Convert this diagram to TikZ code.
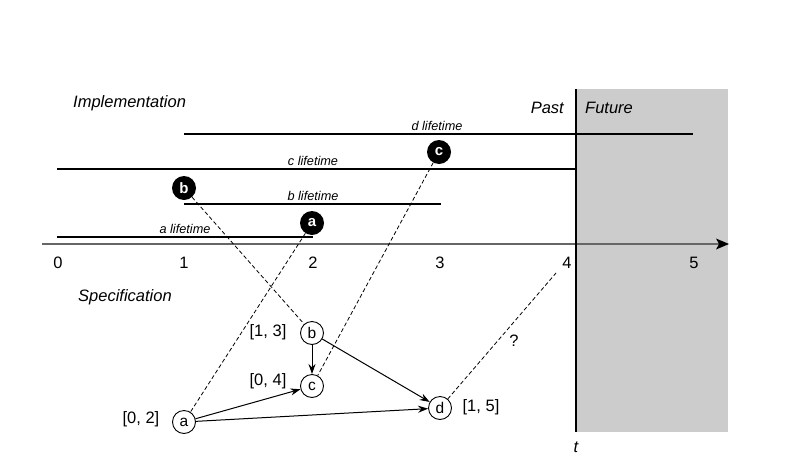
\documentclass[tikz,border=0pt]{standalone}
\usepackage{fontspec}
\setmainfont{Liberation Sans}
\usetikzlibrary{arrows.meta}
\begin{document}
\begin{tikzpicture}[x=1pt,y=-1pt,
  big/.style={font=\fontsize{16.5}{19}\selectfont, inner sep=0pt},
  bigit/.style={font=\fontsize{16.5}{19}\selectfont\itshape, inner sep=0pt},
  lifelab/.style={font=\fontsize{12.7}{15}\selectfont\itshape, inner sep=0pt},
  life/.style={line width=2pt},
  impl/.style={circle, fill=black, minimum size=24pt, inner sep=0pt, text=white, font=\fontsize{15}{18}\selectfont\bfseries},
  spec/.style={circle, draw=black, fill=white, line width=0.9pt, minimum size=23pt, inner sep=0pt, font=\fontsize{15.5}{18}\selectfont},
  dashln/.style={dash pattern=on 4pt off 2.5pt, line width=0.8pt},
  arr/.style={-{Stealth[length=10pt,width=7pt]}, line width=1pt}
]
\useasboundingbox (0,0) rectangle (789,474);
% future area
\fill[black!20] (576,89) rectangle (728,432);
% axis
\coordinate (axs) at (42,244);
\coordinate (axe) at (729,244);
\draw[black!60, line width=2pt] (axs) -- ([xshift=-10pt]axe);
\fill[black] (axe) -- ++(-13,-5.5) -- ++(3,5.5) -- ++(-3,5.5) -- cycle;
% vertical now-line
\coordinate (ttop) at (576,89);
\coordinate (tbot) at (576,432);
\draw[line width=1.5pt] (ttop) -- (tbot);
\node[bigit] (t) at (576,447) {t};
% tick labels
\node[big] (n0) at (58,263) {0};
\node[big] (n1) at (184,263) {1};
\node[big] (n2) at (313,263) {2};
\node[big] (n3) at (440,263) {3};
\node[big] (n4) at (567,263) {4};
\node[big] (n5) at (694,263) {5};
% headings
\node[bigit, anchor=west] (impl) at (73,103) {Implementation};
\node[bigit, anchor=west] (specl) at (78,297) {Specification};
\node[bigit, anchor=east] (past) at (564,108) {Past};
\node[bigit, anchor=west] (fut) at (585,108) {Future};
% lifetimes
\coordinate (a1) at (57,237); \coordinate (a2) at (313,237);
\coordinate (b1) at (184,204); \coordinate (b2) at (441,204);
\coordinate (c1) at (57,169); \coordinate (c2) at (576,169);
\coordinate (d1) at (184,134); \coordinate (d2) at (693,134);
\draw[life] (a1) -- (a2);
\draw[life] (b1) -- (b2);
\draw[life] (c1) -- (c2);
\draw[life] (d1) -- (d2);
\node[lifelab] (al) at (185,229) {a lifetime};
\node[lifelab] (bl) at (313,196) {b lifetime};
\node[lifelab] (cl) at (313,161) {c lifetime};
\node[lifelab] (dl) at (437,126) {d lifetime};
% implementation events
\node[impl] (ib) at (184,188) {b};
\node[impl] (ia) at (312,223) {a};
\node[impl] (ic) at (439,152) {c};
% specification nodes
\node[spec] (sb) at (312,333) {b};
\node[spec] (sc) at (312,386) {c};
\node[spec] (sa) at (184,422) {a};
\node[spec] (sd) at (440,408) {d};
\node[big] (lb) at (268,332) {[1, 3]};
\node[big] (lc) at (268,381) {[0, 4]};
\node[big] (la) at (141,419) {[0, 2]};
\node[big] (ld) at (481,407) {[1, 5]};
% dashed correspondences
\draw[dashln] (ib) -- (sb);
\draw[dashln] (ia) -- (sa);
\draw[dashln] (ic) -- (sc);
\coordinate (q) at (556,273);
\draw[dashln] (sd) -- (q);
\node[big] (ql) at (514,341) {?};
% spec arrows
\draw[arr] (sb) -- (sc);
\draw[arr] (sa) -- (sc);
\draw[arr] (sb) -- (sd);
\draw[arr] (sa) -- (sd);
\end{tikzpicture}
\end{document}
